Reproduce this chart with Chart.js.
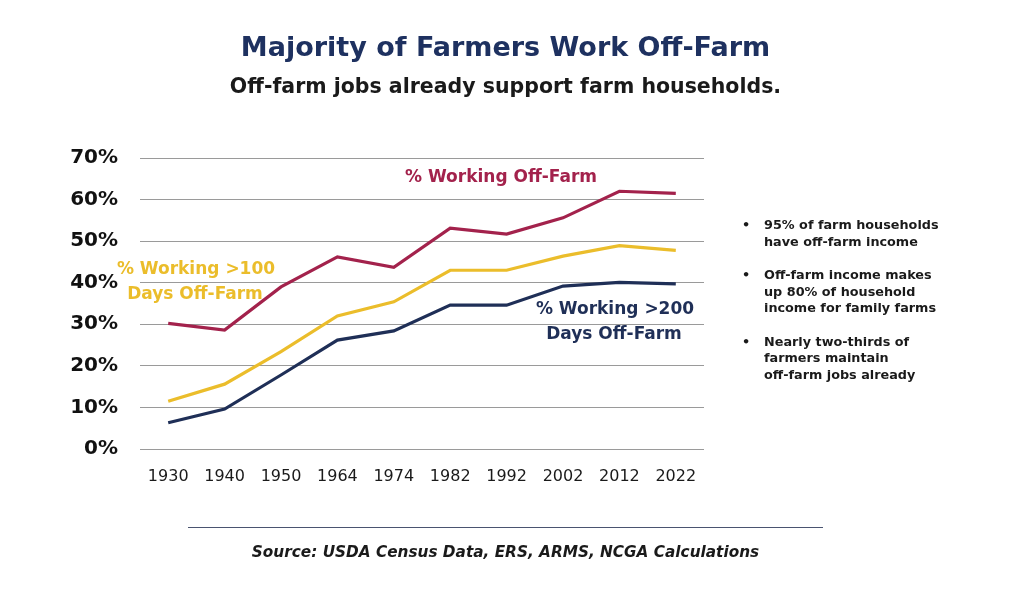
<!DOCTYPE html>
<html>
<head>
<meta charset="utf-8">
<script src="https://cdn.jsdelivr.net/npm/chart.js@4/dist/chart.umd.min.js"></script>
<style>
  html, body { margin: 0; padding: 0; background: #fff; }
  body { width: 1011px; height: 594px; position: relative; overflow: hidden; font-family: 'DejaVu Sans', sans-serif; }
  #chartBox { position: absolute; left: 0; top: 0; width: 1011px; height: 594px; }
  .title { position: absolute; left: 0; width: 1011px; top: 31px; text-align: center; color: #1e3160; font: 700 27px 'DejaVu Sans', sans-serif; }
  .subtitle { position: absolute; left: 0; width: 1011px; top: 74px; text-align: center; color: #1a1a1a; font: 700 20.5px 'DejaVu Sans', sans-serif; }
  .notes { position: absolute; left: 740px; top: 217px; width: 260px; margin: 0; padding: 0; list-style: none; color: #1a1a1a; font: 700 12.8px 'DejaVu Sans', sans-serif; line-height: 16.5px; }
  .notes li { position: relative; padding-left: 24px; margin-bottom: 17px; }
  .notes li:before { content: '\2022'; position: absolute; left: 2px; top: 0; }
  .rule { position: absolute; left: 188px; top: 527px; width: 635px; height: 0; border-top: 1.5px solid #4a5470; }
  .source { position: absolute; left: 0; width: 1011px; top: 543px; text-align: center; color: #1a1a1a; font: italic 700 15.3px 'DejaVu Sans', sans-serif; }
</style>
</head>
<body>
<div id="chartBox"><canvas id="chart"></canvas></div>
<div class="title">Majority of Farmers Work Off-Farm</div>
<div class="subtitle">Off-farm jobs already support farm households.</div>
<ul class="notes">
  <li>95% of farm households<br>have off-farm income</li>
  <li>Off-farm income makes<br>up 80% of household<br>income for family farms</li>
  <li>Nearly two-thirds of<br>farmers maintain<br>off-farm jobs already</li>
</ul>
<div class="rule"></div>
<div class="source">Source: USDA Census Data, ERS, ARMS, NCGA Calculations</div>
<script>
var YEARS = ['1930', '1940', '1950', '1964', '1974', '1982', '1992', '2002', '2012', '2022'];
var OFF_FARM = [30.2, 28.6, 39.0, 46.2, 43.7, 53.1, 51.7, 55.6, 62.0, 61.5];
var OVER_100 = [11.5, 15.6, 23.4, 32.0, 35.4, 43.0, 43.0, 46.4, 48.9, 47.8];
var OVER_200 = [6.3, 9.6, 17.8, 26.2, 28.4, 34.6, 34.6, 39.2, 40.1, 39.7];
var Y_TICKS = [0, 10, 20, 30, 40, 50, 60, 70];

var RED = '#a3224c';
var GOLD = '#ebbd2b';
var NAVY = '#1f2f57';

// Series name labels drawn next to the lines.
var seriesLabels = {
  id: 'seriesLabels',
  afterDraw: function (chart) {
    var ctx = chart.ctx;
    ctx.save();
    ctx.textAlign = 'center';
    ctx.textBaseline = 'middle';
    ctx.font = '700 17px "DejaVu Sans", sans-serif';
    ctx.fillStyle = RED;
    ctx.fillText('% Working Off-Farm', 501, 178);
    ctx.fillStyle = GOLD;
    ctx.fillText('% Working >100', 196, 270);
    ctx.fillText('Days Off-Farm', 195, 295);
    ctx.fillStyle = NAVY;
    ctx.fillText('% Working >200', 615, 310);
    ctx.fillText('Days Off-Farm', 614, 335);
    ctx.restore();
  }
};

new Chart(document.getElementById('chart'), {
  type: 'line',
  data: {
    labels: YEARS,
    datasets: [
      { label: '% Working Off-Farm', data: OFF_FARM, borderColor: RED, borderWidth: 3.2, pointRadius: 0, tension: 0 },
      { label: '% Working >100 Days Off-Farm', data: OVER_100, borderColor: GOLD, borderWidth: 3.2, pointRadius: 0, tension: 0 },
      { label: '% Working >200 Days Off-Farm', data: OVER_200, borderColor: NAVY, borderWidth: 3.2, pointRadius: 0, tension: 0 }
    ]
  },
  options: {
    responsive: true,
    maintainAspectRatio: false,
    animation: false,
    layout: { padding: { top: 158, right: 307, left: 0, bottom: 105 } },
    plugins: { legend: { display: false }, tooltip: { enabled: false } },
    scales: {
      x: {
        offset: true,
        grid: { display: false, drawTicks: false },
        border: { display: false },
        afterFit: function (s) { s.height = 40; },
        ticks: { padding: 18, color: '#1a1a1a', font: { family: '"DejaVu Sans", sans-serif', size: 16 } }
      },
      y: {
        min: 0,
        max: 70,
        afterFit: function (s) { s.width = 140; },
        afterBuildTicks: function (s) { s.ticks = Y_TICKS.map(function (v) { return { value: v }; }); },
        grid: { color: '#9a9a9a', lineWidth: 1, drawTicks: false },
        border: { display: false },
        ticks: {
          padding: 22,
          color: '#111',
          font: { family: '"DejaVu Sans", sans-serif', size: 20, weight: '700' },
          callback: function (v) { return v + '%'; }
        }
      }
    }
  },
  plugins: [seriesLabels]
});
</script>
</body>
</html>
